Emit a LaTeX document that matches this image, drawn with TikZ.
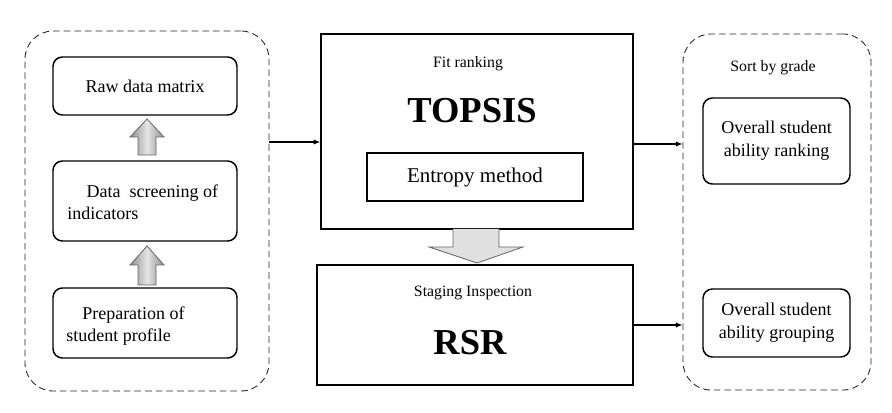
\documentclass[tikz,border=0pt]{standalone}
\usepackage{fontspec}
\setmainfont{Liberation Serif}
\usetikzlibrary{arrows.meta,calc}
\begin{document}
\begin{tikzpicture}[x=0.75pt,y=-0.75pt,
  container/.style={draw=black!85, line width=0.65pt, dash pattern=on 5pt off 3pt, rounded corners=21pt, inner sep=0pt},
  rbox/.style={draw, line width=1.1pt, rounded corners=7pt, inner sep=0pt, minimum width=138pt, font=\fontsize{13.5}{16.5}\selectfont},
  sbox/.style={draw, line width=1.1pt, inner sep=0pt},
  lbl/.style={inner sep=0pt, font=\fontsize{11.85}{14}\selectfont},
  big/.style={inner sep=0pt, font=\fontsize{27.4}{30}\selectfont\bfseries},
  conn/.style={line width=0.8pt, -{Latex[length=5pt,width=4pt]}},
  smallarrow/.style={draw=black!60, line width=0.6pt, left color=black!45, right color=black!45, middle color=black!10},
  bigarrow/.style={draw=black!60, line width=0.6pt, fill=black!12}
]
\useasboundingbox (0,0) rectangle (892,413);
% left container
\node[container, minimum width=183pt, minimum height=270pt] (lc) at (147,211) {};
\node[rbox, minimum height=43.5pt] (raw) at (145,86) {Raw data matrix};
\node[rbox, minimum height=60pt] (data) at (145,201) {};
\node[inner sep=0pt, anchor=west, align=left, font=\fontsize{13.5}{16.5}\selectfont] (datat) at (67,202) {\hspace*{14.5pt}Data\ \ screening of\\indicators};
\node[rbox, minimum height=52.5pt] (prep) at (145,323) {};
\node[inner sep=0pt, anchor=west, align=left, font=\fontsize{13.5}{16.5}\selectfont] (prept) at (66,326) {\hspace*{12pt}Preparation of\\student profile};
% small block arrows
\draw[smallarrow] (138,155) -- (138,137) -- (130,137) -- (147,119) -- (164,137) -- (156,137) -- (156,155) -- cycle;
\draw[smallarrow] (138,285) -- (138,265) -- (130,265) -- (147,246) -- (164,265) -- (156,265) -- (156,285) -- cycle;
% TOPSIS box
\node[sbox, minimum width=234pt, minimum height=146.25pt] (topsis) at (477,131.5) {};
\node[lbl] (fit) at (468,64) {Fit ranking};
\node[big] (topsist) at (472,111) {TOPSIS};
\node[sbox, minimum width=162pt, minimum height=36pt, font=\fontsize{15.75}{18}\selectfont] (entropy) at (475,177) {Entropy method};
% big arrow
\draw[bigarrow] (453,229) -- (453,247) -- (429,247) -- (477,263) -- (523,247) -- (499,247) -- (499,229);
% RSR box
\node[sbox, minimum width=237pt, minimum height=90pt] (rsr) at (475,325) {};
\node[lbl] (stage) at (473,293) {Staging Inspection};
\node[big] (rsrt) at (470,343) {RSR};
% right container
\node[container, minimum width=141pt, minimum height=267pt] (rc) at (777,212) {};
\node[lbl] (sort) at (773,68) {Sort by grade};
\node[rbox, minimum width=110.25pt, minimum height=64.5pt, align=center, font=\fontsize{13.5}{17}\selectfont] (rank) at (776.5,141) {Overall student\\ability ranking};
\node[rbox, minimum width=110.25pt, minimum height=51pt, align=center, font=\fontsize{13.5}{17}\selectfont] (group) at (776.5,323) {Overall student\\ability grouping};
% connectors
\draw[conn] (lc.east |- 0,142) -- (topsis.west |- 0,142);
\draw[conn] (topsis.east |- 0,144) -- (rc.west |- 0,144);
\draw[conn] (rsr.east) -- (rc.west |- rsr.east);
\end{tikzpicture}
\end{document}
